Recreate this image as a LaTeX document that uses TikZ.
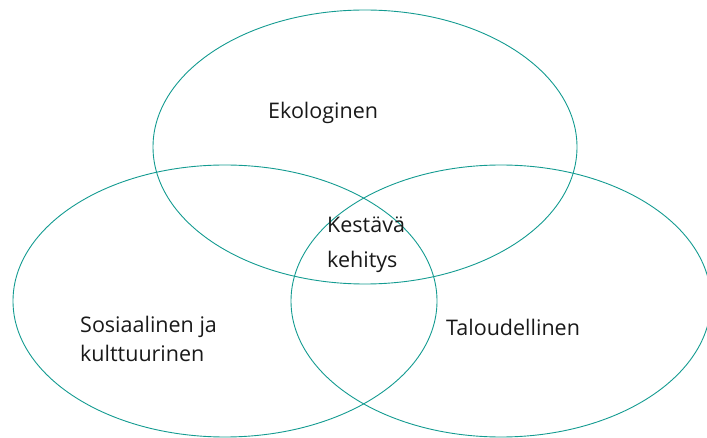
\documentclass[tikz,border=0pt]{standalone}
\usepackage{fontspec}
\setmainfont{Open Sans}
\definecolor{teal1}{RGB}{20,155,145}
\begin{document}
\begin{tikzpicture}[x=1pt,y=-1pt,
  ring/.style={draw=teal1,line width=0.9pt},
  lbl/.style={font=\fontsize{21.5}{29}\selectfont,text=black!90,inner sep=0pt,align=left,anchor=base west}]
\useasboundingbox (0,0) rectangle (707,438);
\begin{scope}
\clip (0,0) rectangle (707,438);
\draw[ring] (365,147) ellipse [x radius=212,y radius=137];
\draw[ring] (225,301) ellipse [x radius=212,y radius=136];
\draw[ring] (501,301) ellipse [x radius=210,y radius=136];
\end{scope}
\node[lbl] (eko) at (268,119) {Ekologinen};
\node[lbl,font=\fontsize{21.5}{35}\selectfont] (kes) at (327,268) {Kestävä\\kehitys};
\node[lbl] (sos) at (80,362) {Sosiaalinen ja\\kulttuurinen};
\node[lbl] (tal) at (446,336) {Taloudellinen};
\end{tikzpicture}
\end{document}
